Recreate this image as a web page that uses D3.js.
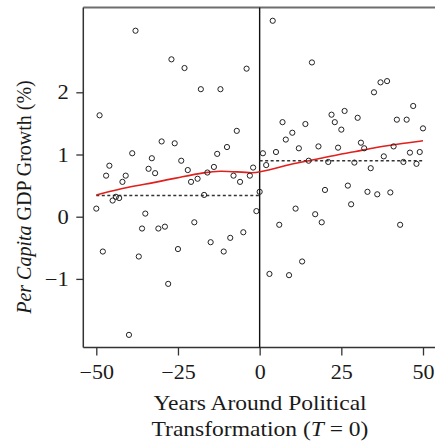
<!DOCTYPE html>
<html><head><meta charset="utf-8">
<script src="https://cdn.jsdelivr.net/npm/d3@7"></script>
<style>html,body{margin:0;padding:0;background:#fff;}svg{display:block;}</style>
</head><body>
<svg id="c" width="435" height="441"></svg>
<script>
const yearsBefore = d3.range(-50, 1);
const growthBefore = [0.13,1.63,-0.56,0.66,0.82,0.26,0.32,0.30,0.56,0.66,
  -1.90,1.02,2.99,-0.64,-0.19,0.05,0.77,0.94,0.70,-0.19,
  1.21,-0.16,-1.08,2.53,1.18,-0.52,0.90,2.39,0.75,0.56,
  -0.09,0.61,2.05,0.35,0.71,-0.41,0.80,1.01,2.05,-0.56,
  1.12,-0.34,0.66,1.38,0.56,-0.25,2.38,0.66,0.79,0.09,0.40];
const yearsAfter = d3.range(1, 51);
const growthAfter = [1.02,0.83,-0.92,3.15,1.04,-0.13,1.52,1.24,-0.94,1.35,
  0.13,1.10,-0.72,1.49,0.90,2.48,0.04,1.13,-0.09,0.43,
  0.88,1.64,1.52,1.11,1.40,1.70,0.50,0.20,0.87,1.59,
  1.19,1.10,0.40,0.78,2.00,0.36,2.16,0.97,2.18,0.39,
  1.13,1.56,-0.13,0.88,1.56,1.03,1.78,0.85,1.04,1.42];
const meanBefore = 0.34;
const meanAfter = 0.90;
const smoothX = [-50,-40,-33,-23,-17,-12,-7,-2,0,5,9,15,19,24,29,34,39,44,50];
const smoothY = [0.35,0.48,0.54,0.65,0.71,0.74,0.72,0.70,0.72,0.78,0.84,0.90,0.94,1.00,1.04,1.10,1.14,1.18,1.22];
const xTicks = [-50,-25,0,25,50];
const yTicks = [-1,0,1,2];

const svg = d3.select("#c");
const x = d3.scaleLinear().domain([-50,50]).range([96.3,423]);
const y = d3.scaleLinear().domain([0,2]).range([216.7,92.3]);
const L = 83.3, R = 435, T = 7.5, B = 347.5;
const serif = "'Liberation Serif','DejaVu Serif',serif";
const fmt = d => d < 0 ? "\u2212" + Math.abs(d) : String(d);

// top border
svg.append("line").attr("x1",L).attr("x2",R).attr("y1",T).attr("y2",T)
  .attr("stroke","#6e6e6e").attr("stroke-width",2.2);

// axes
const gx = svg.append("g").attr("transform",`translate(0,${B})`)
  .call(d3.axisBottom(x).tickValues(xTicks).tickFormat(fmt).tickSize(8).tickPadding(9));
gx.select(".domain").attr("d",`M${L},0H${R}`).attr("stroke","#333").attr("stroke-width",1.5);
gx.selectAll(".tick line").attr("stroke","#333").attr("stroke-width",1.3);
gx.selectAll("text").attr("font-family",serif).attr("font-size",20).attr("fill","#1a1a1a")
  .attr("transform","scale(1.1,1)");

const gy = svg.append("g").attr("transform",`translate(${L},0)`)
  .call(d3.axisLeft(y).tickValues(yTicks).tickFormat(fmt).tickSize(7).tickPadding(8));
gy.select(".domain").attr("d",`M0,${T}V${B}`).attr("stroke","#333").attr("stroke-width",1.5);
gy.selectAll(".tick line").attr("stroke","#333").attr("stroke-width",1.3);
gy.selectAll("text").attr("font-family",serif).attr("font-size",20.5).attr("fill","#1a1a1a")
  .attr("x",-14.5/1.1).attr("transform","scale(1.1,1)");

// vertical line at T=0
svg.append("line").attr("x1",x(0)).attr("x2",x(0)).attr("y1",T).attr("y2",B)
  .attr("stroke","#111").attr("stroke-width",1.4);

// mean lines
svg.append("line").attr("x1",x(-50)).attr("x2",x(0)).attr("y1",y(meanBefore)).attr("y2",y(meanBefore))
  .attr("stroke","#333").attr("stroke-width",1.5).attr("stroke-dasharray","3,2.5");
svg.append("line").attr("x1",x(0)).attr("x2",x(50)).attr("y1",y(meanAfter)).attr("y2",y(meanAfter))
  .attr("stroke","#333").attr("stroke-width",1.5).attr("stroke-dasharray","3,2.5");

// smooth
const sm = smoothX.map((d,i)=>[d,smoothY[i]]);
svg.append("path").datum(sm)
  .attr("d", d3.line().x(d=>x(d[0])).y(d=>y(d[1])).curve(d3.curveBasis))
  .attr("fill","none").attr("stroke","#e0201c").attr("stroke-width",1.6);

// points
const pts = yearsBefore.map((d,i)=>[d,growthBefore[i]]).concat(yearsAfter.map((d,i)=>[d,growthAfter[i]]));
svg.append("g").selectAll("circle").data(pts).join("circle")
  .attr("cx",d=>x(d[0])).attr("cy",d=>y(d[1])).attr("r",2.6)
  .attr("fill","none").attr("stroke","#222").attr("stroke-width",1);

// x title
const xt = svg.append("text").attr("text-anchor","middle").attr("font-family",serif)
  .attr("font-size",22).attr("fill","#1a1a1a")
  .attr("transform","translate(260,0) scale(1.07,1)");
xt.append("tspan").attr("x",0).attr("y",410).text("Years Around Political");
const l2 = xt.append("tspan").attr("x",0).attr("y",436);
l2.append("tspan").text("Transformation (");
l2.append("tspan").attr("font-style","italic").text("T");
l2.append("tspan").text(" = 0)");

// y title
const yt = svg.append("text").attr("text-anchor","middle").attr("font-family",serif)
  .attr("font-size",20).attr("fill","#1a1a1a")
  .attr("transform","translate(31,197) scale(1.08,1) rotate(-90)");
yt.append("tspan").attr("font-style","italic").text("Per Capita");
yt.append("tspan").text(" GDP Growth (%)");
</script>
</body></html>
